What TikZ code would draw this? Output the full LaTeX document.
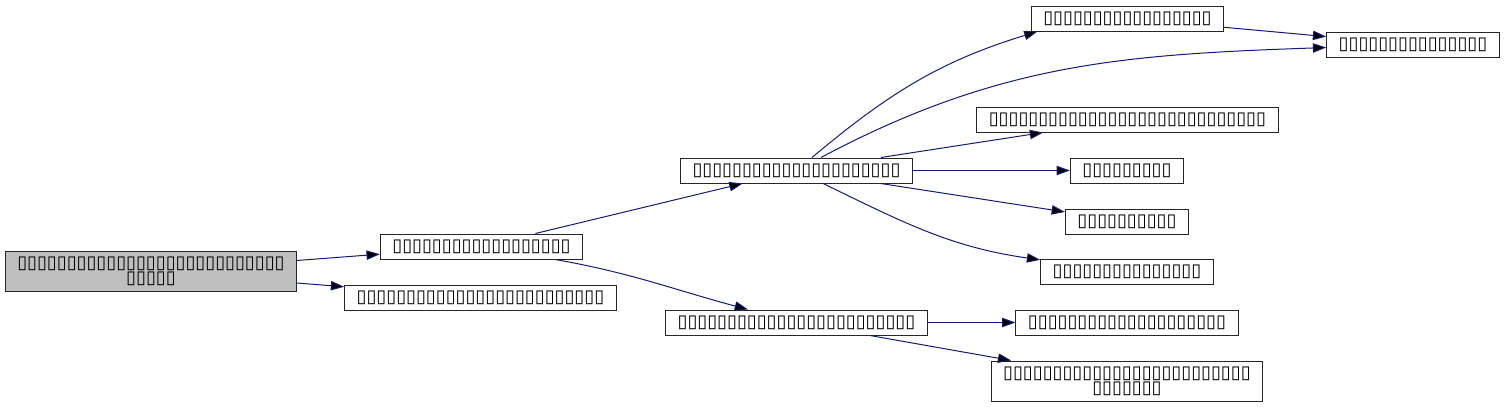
\documentclass[tikz,border=0pt]{standalone}
\usepackage{fontspec}
\usepackage{tikz}
\usetikzlibrary{arrows.meta}
\usepackage{xcolor}
\newfontfamily\boxfont{DejaVu Sans}
\definecolor{midnightblue}{RGB}{25,25,112}

\begin{document}
\begin{tikzpicture}[x=0.75pt,y=-0.75pt,>={Triangle[length=10pt,width=7pt]},
    fn/.style={draw=black!85,fill=white,line width=0.75pt,minimum height=18.75pt,
      inner xsep=9pt,inner ysep=0pt,align=center,
      font=\boxfont\fontsize{13.5}{11.5}\selectfont},
    call/.style={->,draw=midnightblue,line width=0.75pt}]
      \useasboundingbox (0,0) rectangle (1504,407);

      \node[fn,fill=black!25,minimum height=30pt] (f0) at (151,271.5)
        {▯▯▯▯▯▯▯▯▯▯▯▯▯▯▯▯▯▯▯▯▯▯▯▯▯▯▯\\▯▯▯▯▯};
      \node[fn] (f1) at (481.5,246.5) {▯▯▯▯▯▯▯▯▯▯▯▯▯▯▯▯▯▯};
      \node[fn] (f2) at (480.5,297.5) {▯▯▯▯▯▯▯▯▯▯▯▯▯▯▯▯▯▯▯▯▯▯▯▯▯};
      \node[fn] (f3) at (796.5,170.5) {▯▯▯▯▯▯▯▯▯▯▯▯▯▯▯▯▯▯▯▯▯};
      \node[fn] (f4) at (796.5,322.5) {▯▯▯▯▯▯▯▯▯▯▯▯▯▯▯▯▯▯▯▯▯▯▯▯};
      \node[fn] (f5) at (1127.5,18.5) {▯▯▯▯▯▯▯▯▯▯▯▯▯▯▯▯▯};
      \node[fn] (f6) at (1413,44.5) {▯▯▯▯▯▯▯▯▯▯▯▯▯▯▯};
      \node[fn] (f7) at (1127.5,119.5) {▯▯▯▯▯▯▯▯▯▯▯▯▯▯▯▯▯▯▯▯▯▯▯▯▯▯▯▯};
      \node[fn] (f8) at (1127,170.5) {▯▯▯▯▯▯▯▯▯};
      \node[fn] (f9) at (1127,221.5) {▯▯▯▯▯▯▯▯▯▯};
      \node[fn] (f10) at (1127,272) {▯▯▯▯▯▯▯▯▯▯▯▯▯▯▯};
      \node[fn] (f11) at (1127,322.5) {▯▯▯▯▯▯▯▯▯▯▯▯▯▯▯▯▯▯▯▯};
      \node[fn,minimum height=30pt] (f12) at (1127,381)
        {▯▯▯▯▯▯▯▯▯▯▯▯▯▯▯▯▯▯▯▯▯▯▯▯▯\\▯▯▯▯▯▯▯};

      \path[call] (f0) edge (f1)
            (f0) edge (f2)
            (f1) edge (f3)
            (f1) edge [out=-10,in=165] (f4)
            (f3) edge [out=40,in=197] ([xshift=5pt]f5.south west)
            (f3) edge [out=28,in=182] (f6)
            (f3) edge (f7)
            (f3) edge (f8)
            (f3) edge (f9)
            (f3) edge [out=-26,in=172] (f10)
            (f5) edge (f6)
            (f4) edge (f11)
            (f4) edge (f12)
            ;
    \end{tikzpicture}
\end{document}
